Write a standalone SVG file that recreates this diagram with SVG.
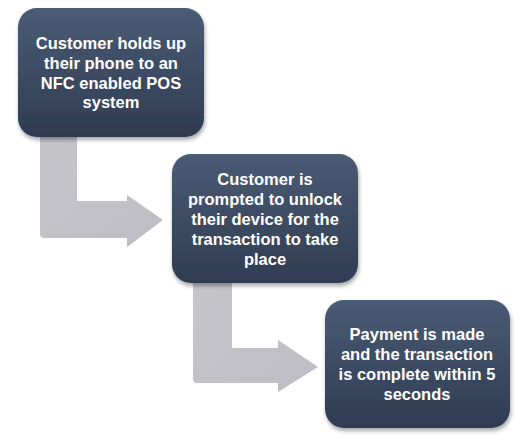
<svg xmlns="http://www.w3.org/2000/svg" width="531" height="442" viewBox="0 0 531 442">
  <defs>
    <linearGradient id="boxGrad" x1="0" y1="0" x2="0" y2="1">
      <stop offset="0" stop-color="#4b5b75"/>
      <stop offset="1" stop-color="#2f3c51"/>
    </linearGradient>
    <linearGradient id="arrGrad" x1="0" y1="0" x2="1" y2="1">
      <stop offset="0" stop-color="#c6c6cb"/>
      <stop offset="1" stop-color="#bcbcc2"/>
    </linearGradient>
    <filter id="shadow" x="-10%" y="-10%" width="125%" height="130%">
      <feGaussianBlur in="SourceAlpha" stdDeviation="2"/>
      <feOffset dx="1" dy="3" result="b"/>
      <feComponentTransfer><feFuncA type="linear" slope="0.35"/></feComponentTransfer>
      <feMerge><feMergeNode/><feMergeNode in="SourceGraphic"/></feMerge>
    </filter>
  </defs>
  <style>
    .box { fill: url(#boxGrad); filter: url(#shadow); }
    .arrow { fill: url(#arrGrad); }
    .label { font-family: "Liberation Sans", Arial, sans-serif; font-weight: bold; font-size: 16.5px; fill: #ffffff; text-anchor: middle; }
  </style>
  <rect width="531" height="442" fill="#ffffff"/>
  <g id="connectors">
    <path class="arrow" d="M40,132 L77,132 L77,201 L127,201 L127,195 L163,220 L127,247 L127,238 L44,238 Q40,238 40,234 Z"/>
    <path class="arrow" d="M193,278 L232,278 L232,348 L278,348 L278,340 L318,367 L278,392 L278,383 L197,383 Q193,383 193,379 Z"/>
  </g>
  <g id="node1">
    <rect class="box" x="18" y="8" width="186" height="129" rx="19" ry="19"/>
    <text class="label" x="111" y="49">Customer holds up</text>
    <text class="label" x="111" y="69">their phone to an</text>
    <text class="label" x="111" y="88.5">NFC enabled POS</text>
    <text class="label" x="111" y="108">system</text>
  </g>
  <g id="node2">
    <rect class="box" x="172" y="154" width="186" height="129" rx="19" ry="19"/>
    <text class="label" x="265" y="185">Customer is</text>
    <text class="label" x="265" y="205">prompted to unlock</text>
    <text class="label" x="265" y="225">their device for the</text>
    <text class="label" x="265" y="245">transaction to take</text>
    <text class="label" x="265" y="265">place</text>
  </g>
  <g id="node3">
    <rect class="box" x="325" y="300" width="185" height="128" rx="19" ry="19"/>
    <text class="label" x="417" y="340">Payment is made</text>
    <text class="label" x="417" y="360">and the transaction</text>
    <text class="label" x="417" y="380">is complete within 5</text>
    <text class="label" x="417" y="400">seconds</text>
  </g>
</svg>
